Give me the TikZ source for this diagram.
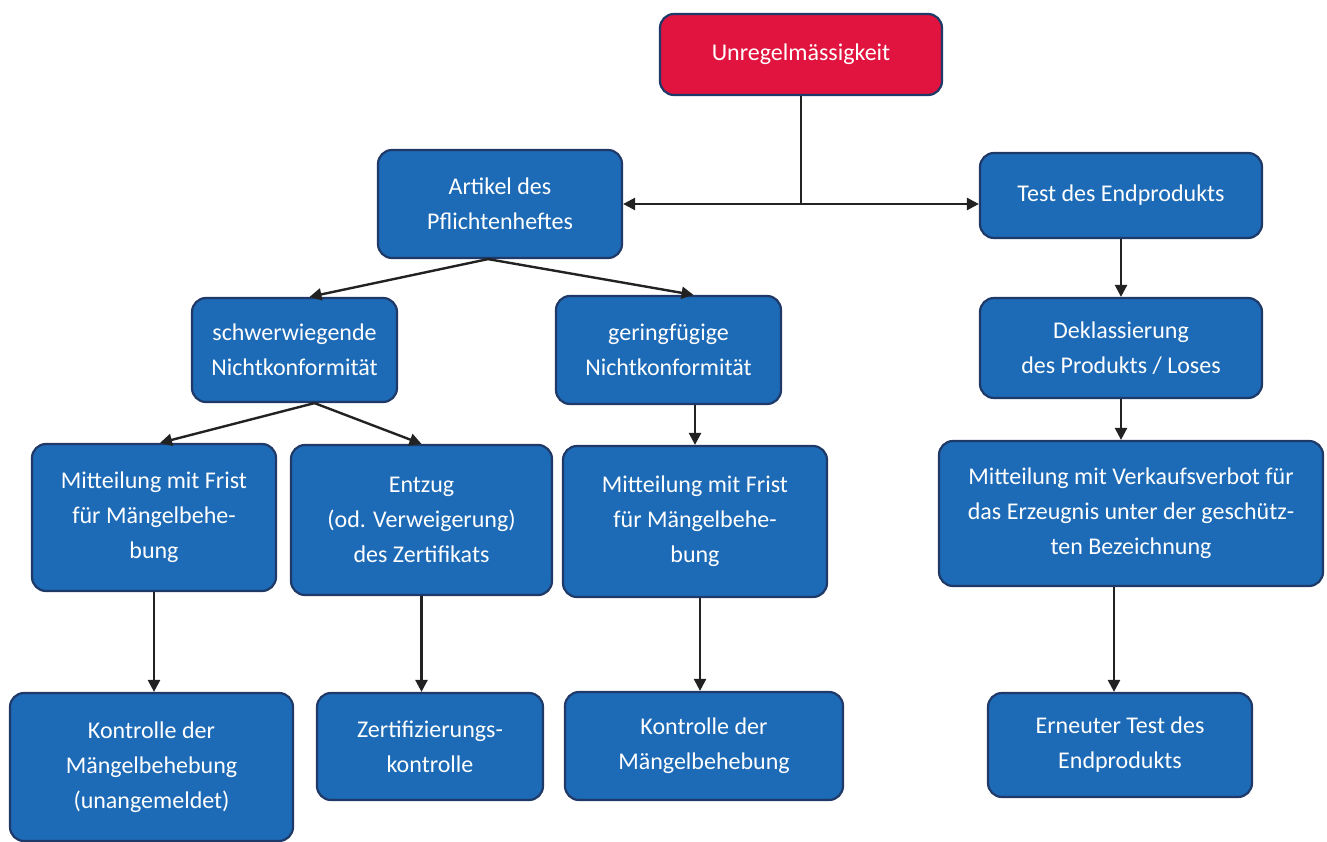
\documentclass[tikz,border=0pt]{standalone}
\usepackage{fontspec}
\setmainfont{Carlito}
\usetikzlibrary{arrows.meta}
\definecolor{boxblue}{HTML}{1D6AB6}
\definecolor{boxborder}{HTML}{1F3A68}
\definecolor{boxred}{HTML}{E0143E}
\definecolor{linecol}{HTML}{222222}
\tikzset{
  box/.style={rounded corners=14pt, fill=boxblue, draw=boxborder, line width=2.2pt,
    text=white, align=center, inner sep=0pt, font=\fontsize{24}{35}\selectfont},
  conn/.style={draw=linecol, line width=2.4pt, -{Triangle[length=12pt,width=12pt]}},
  plain/.style={draw=linecol, line width=2.4pt}
}
\begin{document}
\begin{tikzpicture}[x=1pt,y=-1pt]
\useasboundingbox (0,0) rectangle (1327,842);
\node[box, fill=boxred, minimum width=282pt, minimum height=81pt] (u) at (801,54.5) {Unregelmässigkeit};
\node[box, minimum width=244pt, minimum height=108pt] (art) at (500,204) {Artikel des\\Pflichtenheftes};
\node[box, minimum width=282pt, minimum height=85pt] (test) at (1121,195.5) {Test des Endprodukts};
\node[box, minimum width=205pt, minimum height=104pt] (schw) at (294.5,350) {schwerwiegende\\Nichtkonformität};
\node[box, minimum width=225pt, minimum height=108pt] (ger) at (668.5,350) {geringfügige\\Nichtkonformität};
\node[box, minimum width=282pt, minimum height=100pt] (dek) at (1121,348) {Deklassierung\\des Produkts / Loses};
\node[box, minimum width=244pt, minimum height=147pt] (m1) at (154,517.5) {Mitteilung mit Frist\\für Mängelbehe-\\bung};
\node[box, minimum width=261pt, minimum height=150pt] (ent) at (421.5,520) {Entzug\\(od. Verweigerung)\\des Zertifikats};
\node[box, minimum width=264pt, minimum height=151pt] (m2) at (695,521.5) {Mitteilung mit Frist\\für Mängelbehe-\\bung};
\node[box, minimum width=384pt, minimum height=145pt] (vv) at (1131,513.5) {Mitteilung mit Verkaufsverbot für\\das Erzeugnis unter der geschütz-\\ten Bezeichnung};
\node[box, minimum width=283pt, minimum height=148pt] (k1) at (151.5,767) {Kontrolle der\\Mängelbehebung\\(unangemeldet)};
\node[box, minimum width=226pt, minimum height=107pt] (z) at (430,746.5) {Zertifizierungs-\\kontrolle};
\node[box, minimum width=278pt, minimum height=108pt] (k2) at (704,746) {Kontrolle der\\Mängelbehebung};
\node[box, minimum width=264pt, minimum height=104pt] (e) at (1120,745) {Erneuter Test des\\Endprodukts};

\coordinate (j) at (u.south |- art.east);
\draw[plain] (u.south) -- (j);
\draw[conn, {Triangle[length=12pt,width=12pt]}-{Triangle[length=12pt,width=12pt]}] (art.east) -- (test.west |- art.east);
\draw[conn] ([xshift=-12pt]art.south) -- ([xshift=15pt]schw.north);
\draw[conn] ([xshift=-12pt]art.south) -- ([xshift=25pt]ger.north);
\draw[conn] ([xshift=20pt]schw.south) -- ([xshift=6pt]m1.north);
\draw[conn] ([xshift=20pt]schw.south) -- (ent.north);
\draw[conn] (m2.north |- ger.south) -- (m2.north);
\draw[conn] (test.south) -- (dek.north);
\draw[conn] (dek.south) -- (dek.south |- vv.north);
\draw[conn] (m1.south) -- (m1.south |- k1.north);
\draw[conn] (ent.south) -- (ent.south |- z.north);
\draw[conn] ([xshift=5pt]m2.south) -- ([xshift=5pt]m2.south |- k2.north);
\draw[conn] ([xshift=-6pt]e.north |- vv.south) -- ([xshift=-6pt]e.north);
\end{tikzpicture}
\end{document}
